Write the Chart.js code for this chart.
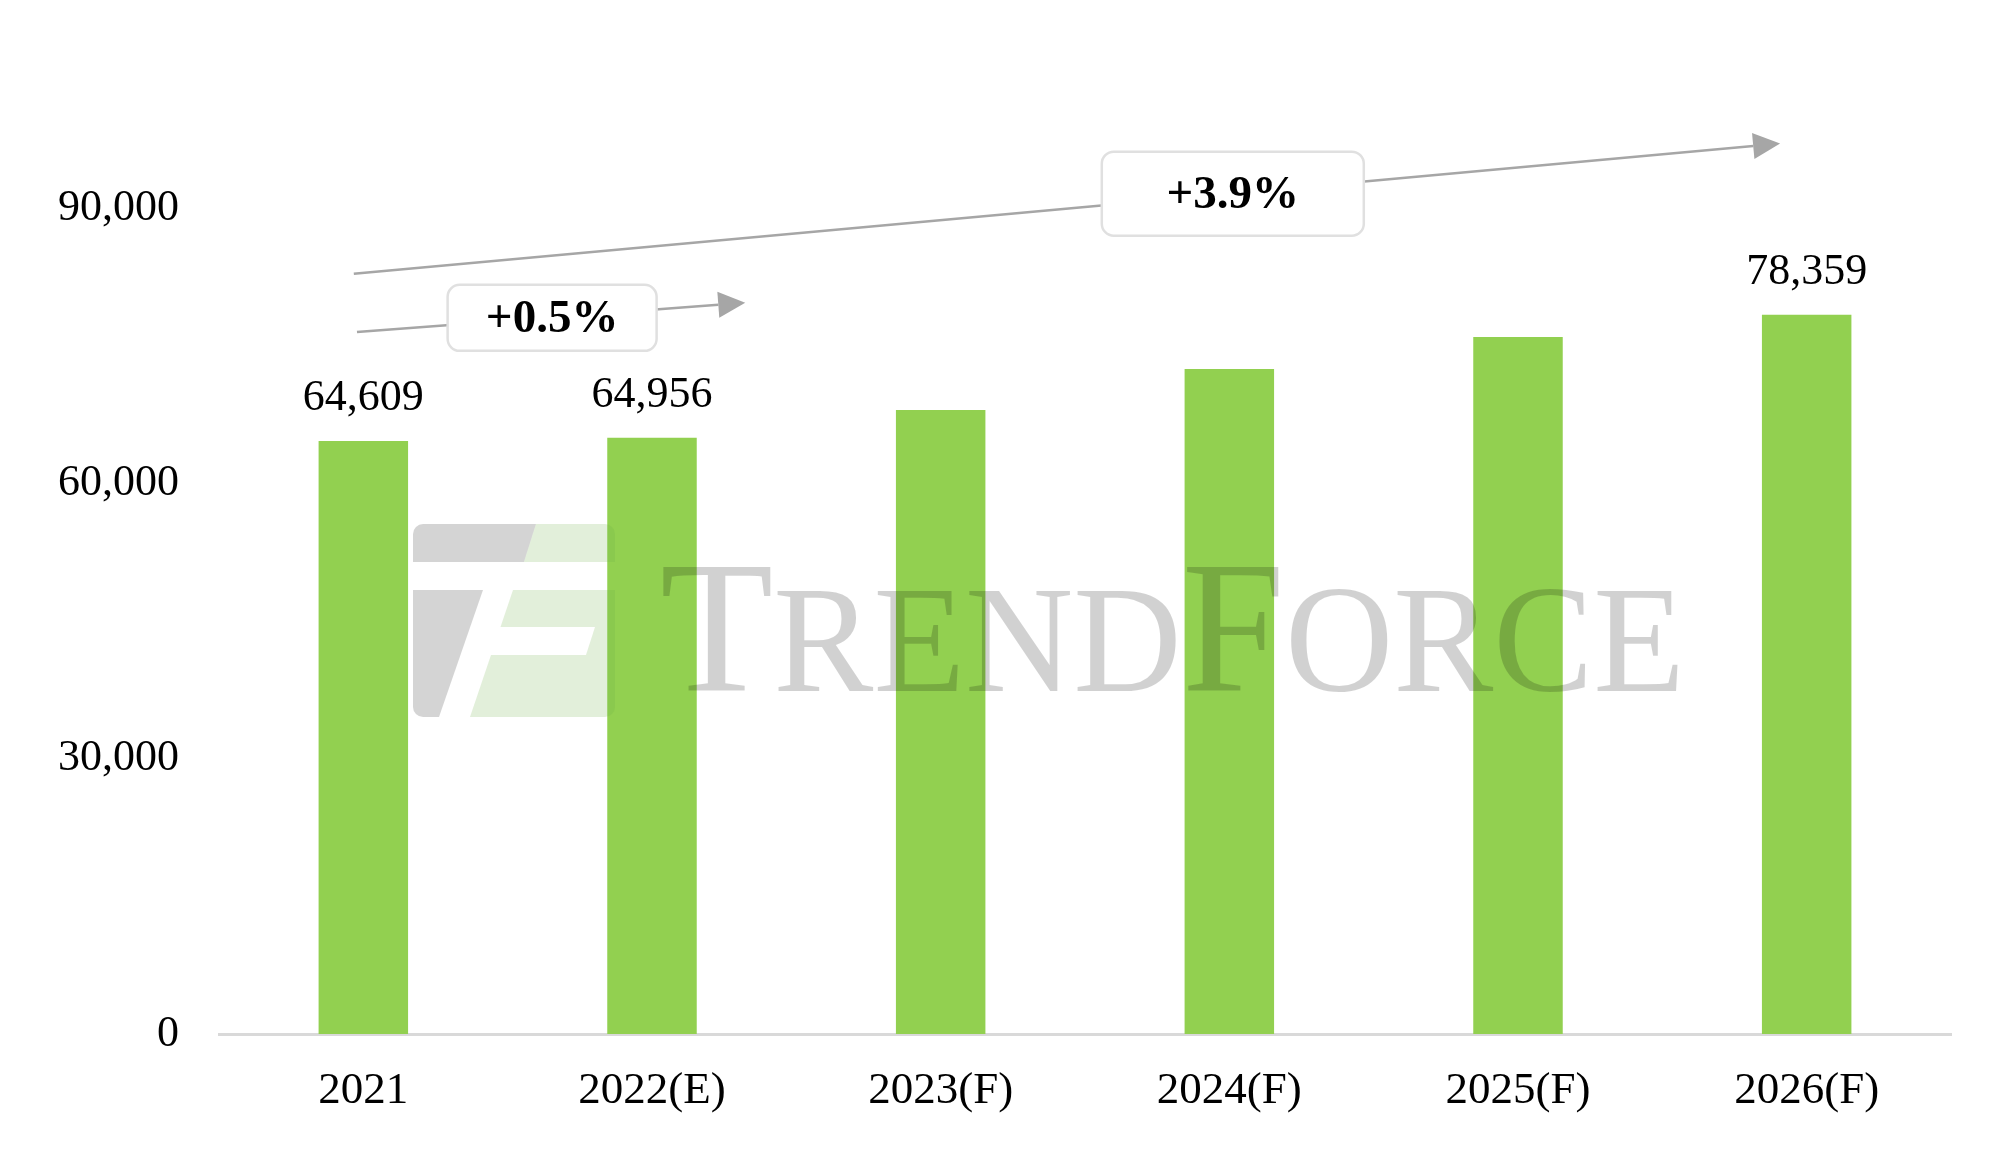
<!DOCTYPE html>
<html>
<head>
<meta charset="utf-8">
<title>Shipments 2021-2026</title>
<script src="https://cdn.jsdelivr.net/npm/chart.js@4.4.0/dist/chart.umd.min.js"></script>
<style>
    html, body { margin: 0; padding: 0; background: #fff; }
    #wrap { width: 2014px; height: 1151px; position: relative; }
</style>
</head>
<body>
<div id="wrap"><canvas id="chart"></canvas></div>
<script>
// Chart data
const years = ['2021', '2022(E)', '2023(F)', '2024(F)', '2025(F)', '2026(F)'];
const shipments = [64609, 64956, 68000, 72450, 75950, 78359];
const labelledBars = [true, true, false, false, false, true];
const yTicks = [0, 30000, 60000, 90000];
const growthLabels = ['+0.5%', '+3.9%'];

const serif = "'Liberation Serif', 'Times New Roman', serif";

// Growth arrows, placed in category index / value units
const growthArrows = [
    { from: [-0.022, 76500], to: [1.323, 79670], box: [0.654, 78030], w: 209, h: 66 },
    { from: [-0.033, 82830], to: [4.908, 97020], box: [3.012, 91560], w: 262, h: 84 }
];

function catX(xs, f) {
    const x0 = xs.getPixelForValue(0);
    const step = xs.getPixelForValue(1) - x0;
    return x0 + f * step;
}

function drawWatermark(ctx) {
    ctx.save();
    // logo
    ctx.beginPath();
    ctx.roundRect(413, 524, 202, 193, 10);
    ctx.clip();
    const grey = 'rgba(0,0,0,0.17)';
    const green = 'rgba(112,173,71,0.2)';
    const polys = [
        [grey, [[413, 524], [536, 524], [524, 562], [413, 562]]],
        [green, [[536, 524], [615, 524], [615, 562], [524, 562]]],
        [grey, [[413, 590], [483, 590], [439, 717], [413, 717]]],
        [green, [[513, 590], [615, 590], [615, 627], [500.5, 627]]],
        [green, [[595, 627], [615, 627], [615, 655], [586, 655]]],
        [green, [[491, 655], [615, 655], [615, 717], [470, 717]]]
    ];
    polys.forEach(([c, pts]) => {
        ctx.fillStyle = c;
        ctx.beginPath();
        pts.forEach((p, i) => i ? ctx.lineTo(p[0], p[1]) : ctx.moveTo(p[0], p[1]));
        ctx.closePath();
        ctx.fill();
    });
    ctx.restore();

    // lettering
    const letters = [['T', 188], ['R', 152], ['E', 152], ['N', 152], ['D', 152],
                     ['F', 188], ['O', 152], ['R', 152], ['C', 152], ['E', 152]];
    ctx.save();
    ctx.fillStyle = 'rgba(0,0,0,0.18)';
    ctx.textBaseline = 'alphabetic';
    let total = 0;
    letters.forEach(([ch, size]) => {
        ctx.font = size + 'px ' + serif;
        total += ctx.measureText(ch).width;
    });
    const sx = 1025 / total;
    ctx.translate(660, 691);
    ctx.scale(sx, 1);
    let x = 0;
    letters.forEach(([ch, size]) => {
        ctx.font = size + 'px ' + serif;
        ctx.fillText(ch, x, 0);
        x += ctx.measureText(ch).width;
    });
    ctx.restore();
}

function drawArrow(ctx, x1, y1, x2, y2) {
    const ang = Math.atan2(y2 - y1, x2 - x1);
    const head = 27, half = 13;
    const bx = x2 - head * Math.cos(ang), by = y2 - head * Math.sin(ang);
    ctx.strokeStyle = '#a6a6a6';
    ctx.lineWidth = 2.5;
    ctx.beginPath();
    ctx.moveTo(x1, y1);
    ctx.lineTo(bx, by);
    ctx.stroke();
    ctx.fillStyle = '#a6a6a6';
    ctx.beginPath();
    ctx.moveTo(x2, y2);
    ctx.lineTo(bx + half * Math.sin(ang), by - half * Math.cos(ang));
    ctx.lineTo(bx - half * Math.sin(ang), by + half * Math.cos(ang));
    ctx.closePath();
    ctx.fill();
}

const overlayPlugin = {
    id: 'overlay',
    afterDatasetsDraw(chart) {
        const ctx = chart.ctx;
        drawWatermark(ctx);

        // value labels above selected bars
        const meta = chart.getDatasetMeta(0);
        ctx.save();
        ctx.fillStyle = '#000';
        ctx.font = '44px ' + serif;
        ctx.textAlign = 'center';
        ctx.textBaseline = 'alphabetic';
        meta.data.forEach((bar, i) => {
            if (!labelledBars[i]) return;
            ctx.fillText(shipments[i].toLocaleString('en-US'), bar.x, bar.y - 31);
        });
        ctx.restore();
    },
    afterDraw(chart) {
        const ctx = chart.ctx;
        const xs = chart.scales.x, ys = chart.scales.y;
        ctx.save();
        growthArrows.forEach((a, i) => {
            drawArrow(ctx, catX(xs, a.from[0]), ys.getPixelForValue(a.from[1]),
                           catX(xs, a.to[0]), ys.getPixelForValue(a.to[1]));
            const cx = catX(xs, a.box[0]), cy = ys.getPixelForValue(a.box[1]);
            ctx.beginPath();
            ctx.roundRect(cx - a.w / 2, cy - a.h / 2, a.w, a.h, 12);
            ctx.fillStyle = '#fff';
            ctx.fill();
            ctx.strokeStyle = '#e0e0e0';
            ctx.lineWidth = 2.5;
            ctx.stroke();
            ctx.fillStyle = '#000';
            ctx.font = 'bold 47px ' + serif;
            ctx.textAlign = 'center';
            ctx.textBaseline = 'middle';
            ctx.fillText(growthLabels[i], cx, cy + 2);
        });
        ctx.restore();
    }
};

new Chart(document.getElementById('chart'), {
    type: 'bar',
    data: {
        labels: years,
        datasets: [{
            data: shipments,
            backgroundColor: '#92d050',
            barPercentage: 0.31,
            categoryPercentage: 1.0
        }]
    },
    options: {
        responsive: true,
        maintainAspectRatio: false,
        animation: false,
        layout: { padding: { left: 18, right: 63, top: 208, bottom: 3 } },
        plugins: {
            legend: { display: false },
            tooltip: { enabled: false }
        },
        scales: {
            x: {
                grid: { display: false, drawTicks: false },
                border: { display: true, color: '#d9d9d9', width: 3 },
                ticks: { color: '#000', font: { family: serif, size: 45 }, padding: 30 }
            },
            y: {
                min: 0,
                max: 90000,
                grid: { display: false, drawTicks: false },
                border: { display: false },
                afterBuildTicks: axis => { axis.ticks = yTicks.map(v => ({ value: v })); },
                ticks: {
                    color: '#000',
                    font: { family: serif, size: 44 },
                    padding: 40,
                    callback: v => v.toLocaleString('en-US')
                }
            }
        }
    },
    plugins: [overlayPlugin]
});
</script>
</body>
</html>
